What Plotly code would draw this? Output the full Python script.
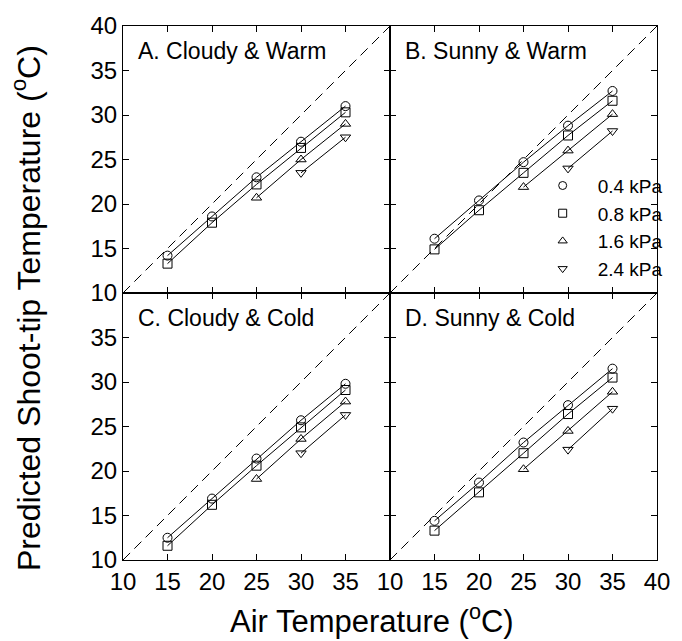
import plotly.graph_objects as go
from plotly.subplots import make_subplots

# ---- data ----
air_temp = [15, 20, 25, 30, 35]
series_names = ["0.4 kPa", "0.8 kPa", "1.6 kPa", "2.4 kPa"]
series_symbols = ["circle-open", "square-open", "triangle-up-open", "triangle-down-open"]

panel_titles = ["A. Cloudy & Warm", "B. Sunny & Warm", "C. Cloudy & Cold", "D. Sunny & Cold"]

A_04 = [14.2, 18.6, 23.0, 27.0, 31.0]
A_08 = [13.3, 17.9, 22.2, 26.3, 30.3]
A_16 = [None, None, 20.7, 25.0, 29.0]
A_24 = [None, None, None, 23.5, 27.5]

B_04 = [16.1, 20.4, 24.7, 28.8, 32.7]
B_08 = [14.9, 19.3, 23.5, 27.7, 31.6]
B_16 = [None, None, 21.9, 26.0, 30.1]
B_24 = [None, None, None, 24.0, 28.2]

C_04 = [12.5, 16.9, 21.4, 25.7, 29.8]
C_08 = [11.6, 16.2, 20.6, 24.9, 29.1]
C_16 = [None, None, 19.1, 23.6, 27.8]
C_24 = [None, None, None, 22.0, 26.3]

D_04 = [14.4, 18.7, 23.2, 27.4, 31.5]
D_08 = [13.3, 17.6, 22.0, 26.4, 30.5]
D_16 = [None, None, 20.2, 24.5, 28.9]
D_24 = [None, None, None, 22.4, 27.0]

one_to_one = [10, 40]

panels = [
    (1, 1, [A_04, A_08, A_16, A_24]),
    (1, 2, [B_04, B_08, B_16, B_24]),
    (2, 1, [C_04, C_08, C_16, C_24]),
    (2, 2, [D_04, D_08, D_16, D_24]),
]

FONT = "Liberation Sans, Arial, sans-serif"

fig = make_subplots(rows=2, cols=2, horizontal_spacing=0, vertical_spacing=0)

for (r, c, series) in panels:
    fig.add_trace(go.Scatter(x=one_to_one, y=one_to_one, mode="lines",
                             line=dict(color="black", width=1, dash="10px,6px"),
                             showlegend=False, hoverinfo="skip"), row=r, col=c)
    for vals, sym in zip(series, series_symbols):
        fig.add_trace(go.Scatter(x=air_temp, y=vals, mode="lines+markers",
                                 line=dict(color="black", width=1),
                                 marker=dict(symbol=sym, size=9, color="black",
                                             line=dict(width=1, color="black")),
                                 showlegend=False), row=r, col=c)

# legend-only entries (placed in panel B)
for name, sym in zip(series_names, series_symbols):
    fig.add_trace(go.Scatter(x=[None], y=[None], mode="markers", name=name,
                             marker=dict(symbol=sym, size=8, color="black",
                                         line=dict(width=1, color="black")),
                             showlegend=True), row=1, col=2)

xt_full = [10, 15, 20, 25, 30, 35, 40]
xt_left = [10, 15, 20, 25, 30, 35]

for r in (1, 2):
    for c in (1, 2):
        show_x = (r == 2)
        show_y = (c == 1)
        fig.update_xaxes(range=[10, 40], tickmode="array",
                         tickvals=(xt_left if c == 1 else xt_full),
                         showticklabels=show_x, ticks="inside", ticklen=6,
                         tickcolor="black", showline=True, linecolor="black",
                         linewidth=1, mirror="ticks", showgrid=False, zeroline=False,
                         tickfont=dict(size=24, color="black", family=FONT),
                         row=r, col=c)
        fig.update_yaxes(range=[10, 40], tickmode="array",
                         tickvals=(xt_full if r == 1 else xt_left),
                         showticklabels=show_y, ticks="inside", ticklen=6,
                         tickcolor="black", showline=True, linecolor="black",
                         linewidth=1, mirror="ticks", showgrid=False, zeroline=False,
                         tickfont=dict(size=24, color="black", family=FONT),
                         row=r, col=c)

# panel titles
axis_refs = [("x", "y"), ("x2", "y2"), ("x3", "y3"), ("x4", "y4")]
for (xr, yr), title in zip(axis_refs, panel_titles):
    fig.add_annotation(text=title, xref=xr + " domain", yref=yr + " domain",
                       x=0.05, y=0.906, xanchor="left", yanchor="middle",
                       showarrow=False, font=dict(size=23, color="black", family=FONT))

# axis titles
fig.add_annotation(text="Air Temperature (<sup>o</sup>C)", xref="paper", yref="paper",
                   x=0.4667, y=-0.111, xanchor="center", yanchor="middle",
                   showarrow=False, font=dict(size=31, color="black", family=FONT))
fig.add_annotation(text="Predicted Shoot-tip Temperature (<sup>o</sup>C)", xref="paper",
                   yref="paper", x=-0.1815, y=0.472, xanchor="center", yanchor="middle",
                   textangle=-90, showarrow=False,
                   font=dict(size=32, color="black", family=FONT))

fig.update_layout(
    width=682, height=641,
    margin=dict(l=123, r=19, t=20, b=81),
    paper_bgcolor="white", plot_bgcolor="white",
    font=dict(family=FONT, color="black"),
    showlegend=True,
    legend=dict(x=1.02, y=0.51, xanchor="right", yanchor="bottom",
                bgcolor="rgba(0,0,0,0)", borderwidth=0,
                font=dict(size=19, color="black", family=FONT),
                itemwidth=60, tracegroupgap=0),
)

fig.write_html("out.html")
